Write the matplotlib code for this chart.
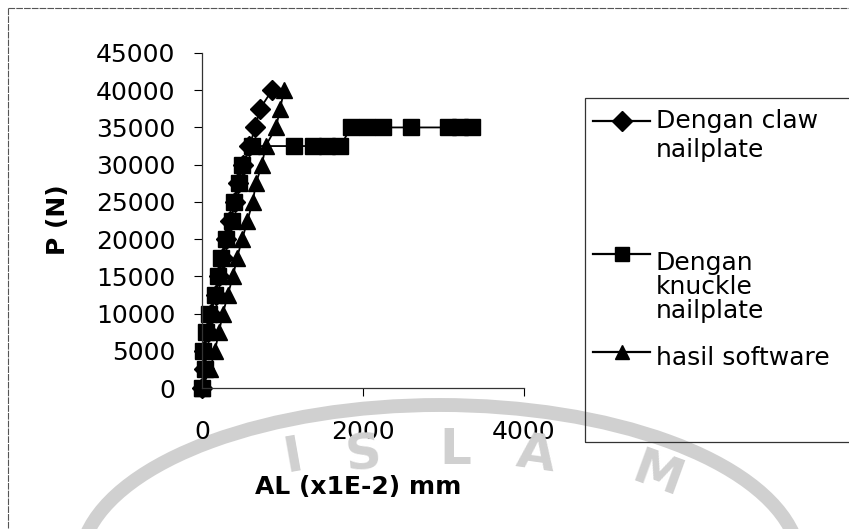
import matplotlib
matplotlib.use("Agg")
import matplotlib.pyplot as plt
from matplotlib.lines import Line2D
from matplotlib.patches import Rectangle, Arc

plt.rcParams['font.family'] = ['DejaVu Sans']

# beban P (N) dan perpindahan AL (x1E-2 mm)
p_claw = [0, 2500, 5000, 7500, 10000, 12500, 15000, 17500, 20000, 22500,
          25000, 27500, 30000, 32500, 35000, 37500, 40000]
al_claw = [0, 30, 30, 70, 110, 170, 210, 260, 300, 350,
           410, 450, 510, 590, 660, 720, 870]

p_knuckle = [0, 2500, 5000, 7500, 10000, 12500, 15000, 17500, 20000, 22500,
             25000, 27500, 30000, 32500, 32500, 32500, 32500, 32500,
             35000, 35000, 35000, 35000, 35000, 35000, 35000]
al_knuckle = [0, 40, 15, 50, 90, 160, 200, 235, 295, 370,
              400, 460, 500, 620, 1140, 1380, 1550, 1720,
              1850, 2050, 2250, 2600, 3050, 3200, 3350]

p_soft = [0, 2500, 5000, 7500, 10000, 12500, 15000, 17500, 20000, 22500,
          25000, 27500, 30000, 32500, 35000, 37500, 40000]
al_soft = [0, 100, 160, 210, 260, 320, 385, 435, 500, 565,
           630, 670, 745, 790, 920, 970, 1020]

W, H = 849, 529
fig = plt.figure(figsize=(W / 100, H / 100), dpi=100)


def fx(px):
    return px / W


def fy(py):
    return 1 - py / H


# cap air samar di latar belakang
grey = '#d0d0d0'
fig.add_artist(Arc((fx(440), fy(565)), 2 * 360 / W, 2 * 160 / H,
                   theta1=8, theta2=172, transform=fig.transFigure,
                   color=grey, lw=10, zorder=0))
for ch, x, y, rot in [('I', 293, 457, 10), ('S', 363, 455, 5), ('L', 455, 450, 0),
                      ('A', 536, 455, -8), ('M', 658, 475, -20)]:
    fig.text(fx(x), fy(y), ch, color=grey, fontsize=36, fontweight='bold',
             rotation=rot, ha='center', va='center', zorder=0)

# bingkai luar
fig.add_artist(Line2D([fx(8), 1], [fy(8), fy(8)], transform=fig.transFigure,
                      color='#555555', lw=0.8, ls=(0, (6, 1))))
fig.add_artist(Line2D([fx(8), fx(8)], [fy(8), 0], transform=fig.transFigure,
                      color='#555555', lw=0.8, ls=(0, (6, 1))))

ax = fig.add_axes([fx(202), fy(388), fx(524) - fx(202), fy(53) - fy(388)])
ax.set_facecolor('none')

ax.plot(al_claw, p_claw, 'k-', marker='D', ms=10, lw=1.3, clip_on=False)
ax.plot(al_knuckle, p_knuckle, 'k-', marker='s', ms=11, lw=1.3, clip_on=False)
ax.plot(al_soft, p_soft, 'k-', marker='^', ms=11, lw=1.3, clip_on=False)

ax.set_xlim(0, 4000)
ax.set_ylim(0, 45000)
ax.set_xticks([0, 2000, 4000])
ax.set_yticks(range(0, 45001, 5000))
for s in ['top', 'right']:
    ax.spines[s].set_visible(False)
for s in ['left', 'bottom']:
    ax.spines[s].set_linewidth(0.9)
    ax.spines[s].set_color('#333333')
ax.tick_params(axis='y', direction='out', length=6, width=0.8, pad=13, labelsize=18)
ax.tick_params(axis='x', direction='out', length=6, width=0.8, pad=17, labelsize=18)

fig.text(fx(358), fy(487), 'AL (x1E-2) mm', fontsize=18, fontweight='bold',
         ha='center', va='center')
fig.text(fx(58), fy(220), 'P (N)', fontsize=18, fontweight='bold',
         rotation=90, ha='center', va='center')

# legenda
fig.add_artist(Rectangle((fx(585), fy(442)), 1.0, fy(98) - fy(442),
                         transform=fig.transFigure, fill=False,
                         edgecolor='#333333', lw=0.9))
entries = [('D', 10, 121, [('Dengan claw', 128), ('nailplate', 157)]),
           ('s', 10, 254, [('Dengan', 270), ('knuckle', 294), ('nailplate', 318)]),
           ('^', 10, 352, [('hasil software', 365)])]
for mk, ms, ym, lines in entries:
    fig.add_artist(Line2D([fx(593), fx(650)], [fy(ym), fy(ym)],
                          transform=fig.transFigure, color='k', lw=1.6))
    fig.add_artist(Line2D([fx(622)], [fy(ym)], transform=fig.transFigure,
                          color='k', marker=mk, ms=ms, ls='none'))
    for txt, yb in lines:
        fig.text(fx(656), fy(yb), txt, fontsize=18, ha='left', va='baseline')

fig.savefig('out.png', dpi=100)
